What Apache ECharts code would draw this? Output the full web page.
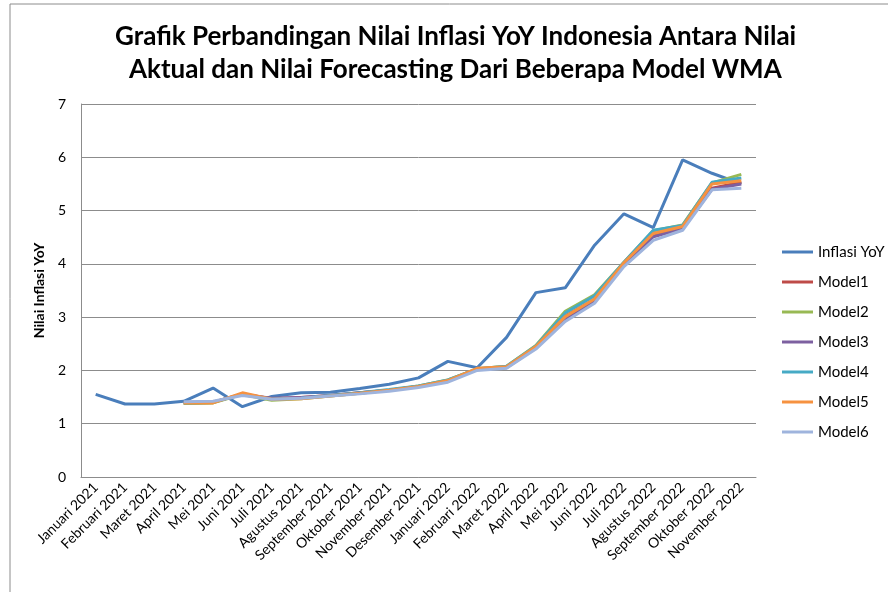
<!DOCTYPE html>
<html>
<head>
<meta charset="utf-8">
<script src="https://cdn.jsdelivr.net/npm/echarts@6/dist/echarts.min.js"></script>
<style>
  html, body { margin: 0; padding: 0; background: #fff; }
  #main { width: 888px; height: 592px; }
</style>
</head>
<body>
<div id="main"></div>
<script>
// kategori bulan
var bulan = ['Januari 2021', 'Februari 2021', 'Maret 2021', 'April 2021', 'Mei 2021', 'Juni 2021',
  'Juli 2021', 'Agustus 2021', 'September 2021', 'Oktober 2021', 'November 2021', 'Desember 2021',
  'Januari 2022', 'Februari 2022', 'Maret 2022', 'April 2022', 'Mei 2022', 'Juni 2022',
  'Juli 2022', 'Agustus 2022', 'September 2022', 'Oktober 2022', 'November 2022'];

// nilai aktual
var inflasiYoY = [1.55, 1.37, 1.37, 1.42, 1.67, 1.32, 1.51, 1.58, 1.59, 1.66, 1.74, 1.86,
  2.17, 2.05, 2.62, 3.46, 3.55, 4.35, 4.94, 4.68, 5.95, 5.70, 5.50];

// hasil forecasting (mulai April 2021)
var model1 = [null, null, null, 1.39, 1.40, 1.56, 1.47, 1.49, 1.53, 1.58, 1.63, 1.70,
  1.80, 2.02, 2.06, 2.44, 3.02, 3.33, 4.00, 4.52, 4.68, 5.42, 5.53];
var model2 = [null, null, null, 1.38, 1.39, 1.55, 1.44, 1.47, 1.52, 1.57, 1.63, 1.71,
  1.82, 2.03, 2.08, 2.47, 3.11, 3.42, 4.03, 4.62, 4.73, 5.52, 5.68];
var model3 = [null, null, null, 1.40, 1.41, 1.55, 1.48, 1.49, 1.53, 1.58, 1.63, 1.70,
  1.80, 2.02, 2.05, 2.43, 2.96, 3.30, 3.98, 4.51, 4.66, 5.40, 5.50];
var model4 = [null, null, null, 1.39, 1.40, 1.56, 1.46, 1.48, 1.53, 1.58, 1.64, 1.71,
  1.82, 2.03, 2.08, 2.46, 3.08, 3.40, 4.03, 4.63, 4.72, 5.53, 5.61];
var model5 = [null, null, null, 1.39, 1.39, 1.58, 1.46, 1.47, 1.52, 1.57, 1.63, 1.70,
  1.81, 2.04, 2.07, 2.45, 3.01, 3.34, 4.02, 4.57, 4.70, 5.50, 5.56];
var model6 = [null, null, null, 1.41, 1.42, 1.53, 1.46, 1.48, 1.52, 1.56, 1.61, 1.68,
  1.78, 2.00, 2.04, 2.40, 2.92, 3.26, 3.95, 4.44, 4.63, 5.39, 5.42];

var seriesNames = ['Inflasi YoY', 'Model1', 'Model2', 'Model3', 'Model4', 'Model5', 'Model6'];
var seriesData = [inflasiYoY, model1, model2, model3, model4, model5, model6];
var warna = ['#4a7ebb', '#be4b48', '#98b954', '#7d60a0', '#46aac5', '#f69240', '#9fb4dd'];

var fontUtama = 'Lato, "Open Sans", sans-serif';

var myChart = echarts.init(document.getElementById('main'));

var series = [];
for (var i = 0; i < seriesNames.length; i++) {
  series.push({
    name: seriesNames[i],
    type: 'line',
    data: seriesData[i],
    symbol: 'none',
    connectNulls: false,
    lineStyle: { width: 3, color: warna[i] },
    itemStyle: { color: warna[i] },
    z: 2 + i
  });
}

var judulStyle = {
  fontFamily: fontUtama,
  fontSize: 26,
  fontWeight: 'bold',
  color: '#000',
  lineHeight: 33
};

var option = {
  animation: false,
  color: warna,
  // judul dua baris, dipisah supaya posisinya pas
  title: [{
    text: 'Grafik Perbandingan Nilai Inflasi YoY Indonesia Antara Nilai',
    left: 110,
    top: 15,
    textStyle: judulStyle
  }, {
    text: 'Aktual dan Nilai Forecasting Dari Beberapa Model WMA',
    left: 124,
    top: 48,
    textStyle: judulStyle
  }],
  graphic: [{
    type: 'rect',
    shape: { x: 10, y: 4, width: 900, height: 620 },
    style: { fill: 'none', stroke: '#8c8c8c', lineWidth: 1 },
    silent: true
  }],
  legend: {
    orient: 'vertical',
    left: 777,
    top: 238,
    icon: 'rect',
    itemWidth: 31,
    itemHeight: 3,
    itemGap: 12,
    data: seriesNames,
    textStyle: {
      fontFamily: fontUtama,
      fontSize: 15,
      color: '#000',
      lineHeight: 18
    }
  },
  grid: {
    left: 81,
    right: 132,
    top: 104,
    bottom: 115,
    containLabel: false
  },
  xAxis: {
    type: 'category',
    data: bulan,
    boundaryGap: true,
    axisLine: { show: true, lineStyle: { color: '#8c8c8c', width: 1 } },
    axisTick: { show: false },
    axisLabel: {
      interval: 0,
      rotate: 45,
      margin: 8,
      fontFamily: fontUtama,
      fontSize: 14,
      color: '#000'
    },
    splitLine: { show: false }
  },
  yAxis: {
    type: 'value',
    min: 0,
    max: 7,
    interval: 1,
    name: 'Nilai Inflasi YoY',
    nameLocation: 'middle',
    nameGap: 34,
    nameRotate: 90,
    nameTextStyle: {
      fontFamily: fontUtama,
      fontSize: 14,
      fontWeight: 'bold',
      color: '#000'
    },
    axisLine: { show: true, lineStyle: { color: '#8c8c8c', width: 1 } },
    axisTick: { show: false },
    axisLabel: {
      margin: 15,
      fontFamily: fontUtama,
      fontSize: 14,
      color: '#000'
    },
    splitLine: { show: true, lineStyle: { color: '#8c8c8c', width: 1 } }
  },
  series: series
};

myChart.setOption(option);
</script>
</body>
</html>
